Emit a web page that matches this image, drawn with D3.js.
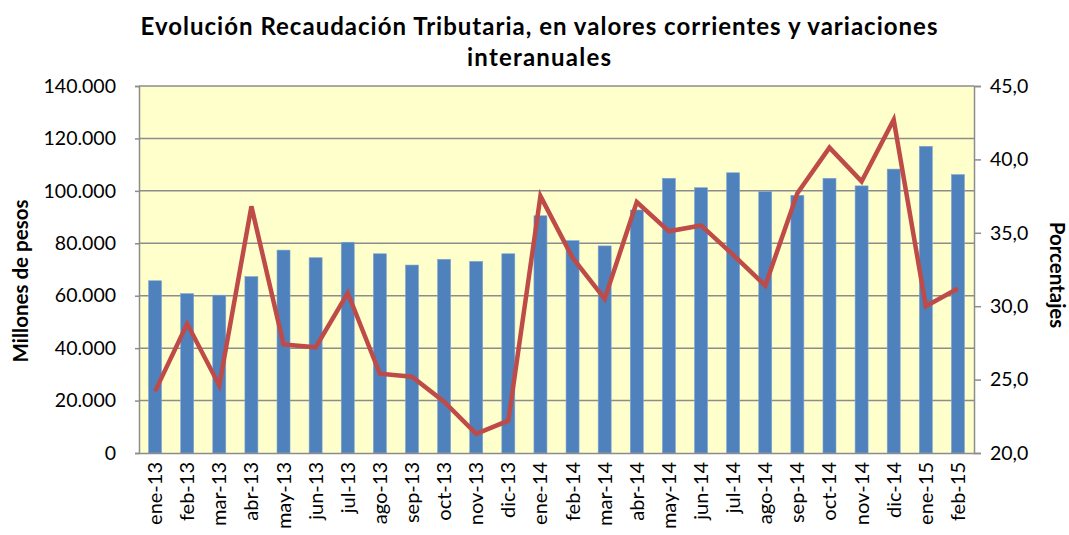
<!DOCTYPE html>
<html><head><meta charset="utf-8">
<script src="https://cdn.jsdelivr.net/npm/d3@7"></script>
<style>body{margin:0;background:#fff}svg{display:block}</style>
</head><body>
<svg id="c" width="1069" height="535"></svg>
<script>
const categories = ["ene-13","feb-13","mar-13","abr-13","may-13","jun-13","jul-13","ago-13","sep-13","oct-13","nov-13","dic-13","ene-14","feb-14","mar-14","abr-14","may-14","jun-14","jul-14","ago-14","sep-14","oct-14","nov-14","dic-14","ene-15","feb-15"];
const recaudacion = [65700,60800,60200,67300,77400,74500,80400,76000,71700,73900,73100,76000,90500,81000,79000,92700,104800,101200,106900,99700,98300,104800,101900,108300,117000,106200];
const variacion = [24.2,28.8,24.6,36.8,27.4,27.2,30.9,25.4,25.2,23.5,21.3,22.2,37.5,33.3,30.5,37.1,35.1,35.5,33.5,31.4,37.7,40.8,38.5,42.7,30.0,31.2];
const leftTicks = [0,20000,40000,60000,80000,100000,120000,140000];
const rightTicks = [20,25,30,35,40,45];
const titleLines = ["Evolución Recaudación Tributaria, en valores corrientes y variaciones","interanuales"];

const svg = d3.select("#c");
const L = 139, R = 974, T = 86, B = 453;
const font = "Lato, 'Open Sans', sans-serif";

const x = d3.scaleBand().domain(categories).range([L, R]).padding(0);
const yL = d3.scaleLinear().domain([0,140000]).range([B, T]);
const yR = d3.scaleLinear().domain([20,45]).range([B, T]);

svg.append("rect").attr("x",L).attr("y",T).attr("width",R-L).attr("height",B-T).attr("fill","#FFFFCC");

// gridlines
svg.append("g").selectAll("line").data(leftTicks.slice(1)).join("line")
  .attr("x1",L).attr("x2",R).attr("y1",d=>yL(d)).attr("y2",d=>yL(d))
  .attr("stroke","#8c8c8c").attr("stroke-width",1.5);

// bars
const bw = 13;
svg.append("g").selectAll("rect").data(categories).join("rect")
  .attr("x",(d)=>x(d)+x.bandwidth()/2-bw/2)
  .attr("y",(d,i)=>yL(recaudacion[i]))
  .attr("width",bw)
  .attr("height",(d,i)=>B-yL(recaudacion[i]))
  .attr("fill","#4F81BD").attr("stroke","#7fa6d6").attr("stroke-width",0.6);

// line
const line = d3.line().x((d,i)=>x(categories[i])+x.bandwidth()/2).y(d=>yR(d));
svg.append("path").datum(variacion).attr("d",line).attr("fill","none")
  .attr("stroke","#BE4B48").attr("stroke-width",4.5).attr("stroke-linejoin","miter");

// left axis
const gl = svg.append("g").attr("transform",`translate(${L},0)`)
  .call(d3.axisLeft(yL).tickValues(leftTicks).tickSize(4).tickPadding(19)
    .tickFormat(d=>d===0?"0":d3.format(",")(d).replace(/,/g,".")));
gl.select(".domain").attr("stroke","#8c8c8c").attr("stroke-width",1.5);
gl.selectAll(".tick line").attr("stroke","#8c8c8c").attr("stroke-width",1.5);
gl.selectAll("text").attr("font-family",font).attr("font-size",19.5).attr("fill","#000");

// right axis
const gr = svg.append("g").attr("transform",`translate(${R},0)`)
  .call(d3.axisRight(yR).tickValues(rightTicks).tickSize(7).tickPadding(9)
    .tickFormat(d=>d3.format(".1f")(d).replace(".",",")));
gr.select(".domain").attr("stroke","#8c8c8c").attr("stroke-width",1.5);
gr.selectAll(".tick line").attr("stroke","#8c8c8c").attr("stroke-width",1.5);
gr.selectAll("text").attr("font-family",font).attr("font-size",19.5).attr("fill","#000");

// bottom axis
const gb = svg.append("g").attr("transform",`translate(0,${B})`)
  .call(d3.axisBottom(x).tickSize(0).tickPadding(0));
gb.select(".domain").attr("stroke","#8c8c8c").attr("stroke-width",1.5);
gb.selectAll("text").attr("font-family",font).attr("font-size",20).attr("fill","#000")
  .attr("transform","rotate(-90)").attr("text-anchor","end").attr("dy","0.35em")
  .attr("x",-9).attr("y",0);

// axis titles
svg.append("text").attr("transform","translate(28,281) rotate(-90)").attr("text-anchor","middle")
  .attr("font-family",font).attr("font-weight","bold").attr("font-size",20.5).text("Millones de pesos");
svg.append("text").attr("transform","translate(1050,275) rotate(90)").attr("text-anchor","middle")
  .attr("font-family",font).attr("font-weight","bold").attr("font-size",20.5).text("Porcentajes");

// title
const tLens = [797, 144];
svg.append("g").selectAll("text").data(titleLines).join("text")
  .attr("x",539).attr("y",(d,i)=>35+i*31).attr("text-anchor","middle")
  .attr("font-family",font).attr("font-weight","bold").attr("font-size",24)
  .attr("textLength",(d,i)=>tLens[i]).attr("lengthAdjust","spacing")
  .text(d=>d);
</script>
</body></html>
